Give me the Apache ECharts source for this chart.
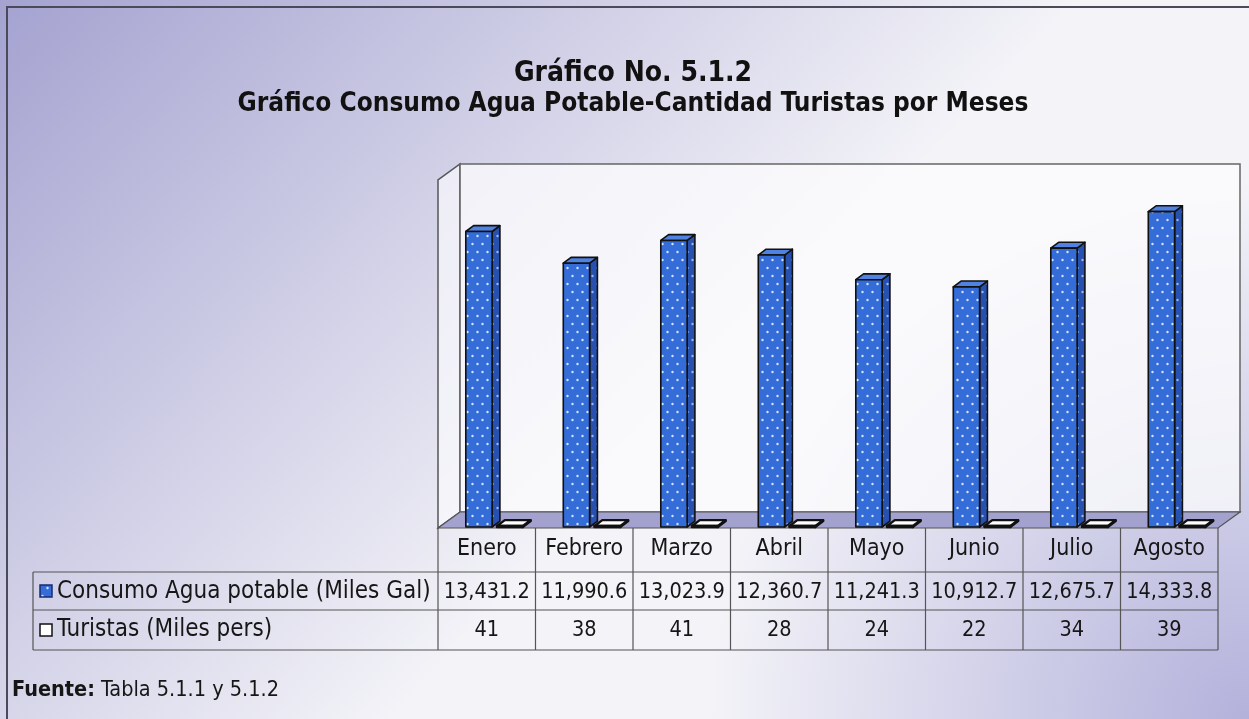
<!DOCTYPE html>
<html>
<head>
<meta charset="utf-8">
<script src="https://cdn.jsdelivr.net/npm/echarts@6/dist/echarts.min.js"></script>
<style>
html, body { margin: 0; padding: 0; background: #fff; }
#grafico { width: 1249px; height: 719px; }
</style>
</head>
<body>
<div id="grafico"></div>
<script>
// datos del gráfico
var meses = ['Enero', 'Febrero', 'Marzo', 'Abril', 'Mayo', 'Junio', 'Julio', 'Agosto'];
var consumoAgua = [13431.2, 11990.6, 13023.9, 12360.7, 11241.3, 10912.7, 12675.7, 14333.8];
var turistas = [41, 38, 41, 28, 24, 22, 34, 39];
var nombreConsumo = 'Consumo Agua potable (Miles Gal)';
var nombreTuristas = 'Turistas (Miles pers)';
var titulo1 = 'Gráfico No. 5.1.2';
var titulo2 = 'Gráfico Consumo Agua Potable-Cantidad Turistas por Meses';

// disposición
var G = { left: 438, right: 1218, top: 175, cero: 527, frente: 528, dx: 22, dy: -16, techo: 164 };
var FILAS = [572, 610, 650];     // líneas horizontales de la tabla
var TABLA_IZQ = 33;
var FUENTE = '"DejaVu Sans Condensed", "DejaVu Sans", sans-serif';

function patron(fondo, punto) {
	var c = document.createElement('canvas');
	c.width = 10; c.height = 16;
	var g = c.getContext('2d');
	g.fillStyle = fondo; g.fillRect(0, 0, 10, 16);
	g.fillStyle = punto;
	g.beginPath(); g.arc(2.5, 4, 1.2, 0, Math.PI * 2); g.fill();
	g.beginPath(); g.arc(7.5, 12, 1.2, 0, Math.PI * 2); g.fill();
	return { image: c, repeat: 'repeat' };
}
var caraAzul = patron('#346cd8', 'rgba(225,235,255,0.95)');
var ladoAzul = patron('#2651b0', 'rgba(190,205,245,0.8)');
var tapaAzul = '#5082e2';

function barra3D(desde, hasta, cara, lado, tapa, grosor) {
	return function (params, api) {
		var base = api.coord([api.value(0), 0]);
		var arriba = api.coord([api.value(0), api.value(1)]);
		var bw = api.size([1, 0])[0];
		var x0 = base[0] + desde * bw, x1 = base[0] + hasta * bw;
		var y0 = base[1], y1 = Math.min(arriba[1], base[1] - 1);
		var ddx = 0.08 * bw, ddy = -0.06 * bw;
		var borde = { stroke: '#111', lineWidth: grosor, lineJoin: 'round' };
		return {
			type: 'group',
			children: [
				{ type: 'polygon', shape: { points: [[x1, y0], [x1, y1], [x1 + ddx, y1 + ddy], [x1 + ddx, y0 + ddy]] },
					style: Object.assign({ fill: lado }, borde) },
				{ type: 'polygon', shape: { points: [[x0, y1], [x1, y1], [x1 + ddx, y1 + ddy], [x0 + ddx, y1 + ddy]] },
					style: Object.assign({ fill: tapa }, borde) },
				{ type: 'rect', shape: { x: x0, y: y1, width: x1 - x0, height: y0 - y1 },
					style: Object.assign({ fill: cara }, borde) }
			]
		};
	};
}

function fmt(v) {
	return v.toLocaleString('en-US', { minimumFractionDigits: 1, maximumFractionDigits: 1 });
}

// celdas de la tabla de datos, una columna por mes
function celdas(params, api) {
	var c = api.coord([api.value(0), 0]);
	var bw = api.size([1, 0])[0];
	var txt = { align: 'center', verticalAlign: 'middle', font: '21.5px ' + FUENTE, fill: '#161616' };
	var hijos = [
		{ type: 'text', style: Object.assign({ text: fmt(api.value(1)), x: c[0], y: (FILAS[0] + FILAS[1]) / 2 + 1 }, txt) },
		{ type: 'text', style: Object.assign({ text: String(api.value(2)), x: c[0], y: (FILAS[1] + FILAS[2]) / 2 }, txt) },
		{ type: 'line', shape: { x1: c[0] - bw / 2, y1: G.frente, x2: c[0] - bw / 2, y2: FILAS[2] },
			style: { stroke: '#555', lineWidth: 1.2 } }
	];
	if (params.dataIndex === meses.length - 1) {
		hijos.push({ type: 'line', shape: { x1: c[0] + bw / 2, y1: G.frente, x2: c[0] + bw / 2, y2: FILAS[2] },
			style: { stroke: '#555', lineWidth: 1.2 } });
	}
	return { type: 'group', children: hijos };
}

var chart = echarts.init(document.getElementById('grafico'), null, { renderer: 'canvas' });

var lineasTabla = FILAS.map(function (y) {
	return { type: 'line', z: 5, shape: { x1: TABLA_IZQ, y1: y, x2: G.right, y2: y }, style: { stroke: '#555', lineWidth: 1.2 } };
});

var option = {
	animation: false,
	backgroundColor: '#f3f3f8',
	graphic: [
		// fondo escaneado
		{ type: 'rect', z: -20, silent: true, shape: { x: 0, y: 0, width: 1249, height: 719 },
			style: { fill: { type: 'linear', x: 0, y: 0, x2: 0.45, y2: 0.75, colorStops: [
				{ offset: 0, color: 'rgba(160,158,206,0.95)' }, { offset: 1, color: 'rgba(160,158,206,0)' }] } } },
		{ type: 'rect', z: -19, silent: true, shape: { x: 0, y: 0, width: 1249, height: 719 },
			style: { fill: { type: 'radial', x: 1, y: 1, r: 0.75, colorStops: [
				{ offset: 0, color: 'rgba(168,166,214,0.85)' }, { offset: 1, color: 'rgba(168,166,214,0)' }] } } },
		// paredes y piso
		{ type: 'polygon', z: -10, silent: true,
			shape: { points: [[G.left, G.frente], [G.left, G.techo - G.dy], [G.left + G.dx, G.techo], [G.left + G.dx, G.frente + G.dy]] },
			style: { fill: 'rgba(250,250,253,0.7)', stroke: '#555', lineWidth: 1.5 } },
		{ type: 'rect', z: -10, silent: true,
			shape: { x: G.left + G.dx, y: G.techo, width: G.right - G.left, height: G.frente + G.dy - G.techo },
			style: { fill: 'rgba(252,252,254,0.75)', stroke: '#666', lineWidth: 1.5 } },
		{ type: 'polygon', z: -9, silent: true,
			shape: { points: [[G.left, G.frente], [G.right, G.frente], [G.right + G.dx, G.frente + G.dy], [G.left + G.dx, G.frente + G.dy]] },
			style: { fill: '#a3a2cf', stroke: '#555', lineWidth: 1.2 } },
		// tabla
		{ type: 'line', z: 5, shape: { x1: TABLA_IZQ, y1: FILAS[0], x2: TABLA_IZQ, y2: FILAS[2] }, style: { stroke: '#555', lineWidth: 1.2 } }
	].concat(lineasTabla).concat([
		{ type: 'rect', z: 6, shape: { x: 40, y: 585, width: 12, height: 12 }, style: { fill: caraAzul, stroke: '#1a2a70', lineWidth: 1.5 } },
		{ type: 'text', z: 6, style: { text: nombreConsumo, x: 57, y: 592, verticalAlign: 'middle', font: '24px ' + FUENTE, fill: '#161616' } },
		{ type: 'rect', z: 6, shape: { x: 40, y: 624, width: 12, height: 12 }, style: { fill: '#fff', stroke: '#111', lineWidth: 1.5 } },
		{ type: 'text', z: 6, style: { text: nombreTuristas, x: 57, y: 630, verticalAlign: 'middle', font: '24px ' + FUENTE, fill: '#161616' } },
		// títulos
		{ type: 'text', z: 6, style: { text: titulo1, x: 633, y: 74, align: 'center', verticalAlign: 'middle', font: 'bold 28px ' + FUENTE, fill: '#111' } },
		{ type: 'text', z: 6, style: { text: titulo2, x: 633, y: 104, align: 'center', verticalAlign: 'middle', font: 'bold 26px ' + FUENTE, fill: '#111' } },
		// fuente
		{ type: 'text', z: 6, style: { text: '{b|Fuente:} Tabla 5.1.1 y 5.1.2', x: 12, y: 690, verticalAlign: 'middle', font: '21.5px ' + FUENTE, fill: '#161616',
			rich: { b: { fontWeight: 'bold', fontSize: 21.5, fontFamily: FUENTE, fill: '#161616' } } } },
		// marco
		{ type: 'polyline', z: 7, shape: { points: [[7, 740], [7, 7], [1260, 7]] }, style: { stroke: '#4a4a5a', lineWidth: 2, fill: null } }
	]),
	grid: { left: G.left, right: 1249 - G.right, top: G.top, bottom: 719 - G.cero },
	xAxis: {
		type: 'category', data: meses,
		axisLine: { show: false }, axisTick: { show: false }, splitLine: { show: false },
		axisLabel: { interval: 0, margin: 11, fontSize: 23, fontFamily: FUENTE, color: '#161616' }
	},
	yAxis: { type: 'value', min: 0, max: 16000, show: false },
	series: [
		{ type: 'custom', name: nombreConsumo, clip: false, silent: true,
			renderItem: barra3D(-0.215, 0.055, caraAzul, ladoAzul, tapaAzul, 1.6),
			data: consumoAgua.map(function (v, i) { return [i, v]; }) },
		{ type: 'custom', name: nombreTuristas, clip: false, silent: true,
			renderItem: barra3D(0.105, 0.37, '#fff', '#fff', '#fff', 2.4),
			data: turistas.map(function (v, i) { return [i, v]; }) },
		{ type: 'custom', name: 'tabla', clip: false, silent: true, z: 5,
			renderItem: celdas,
			data: meses.map(function (m, i) { return [i, consumoAgua[i], turistas[i]]; }) }
	]
};
chart.setOption(option);
</script>
</body>
</html>
